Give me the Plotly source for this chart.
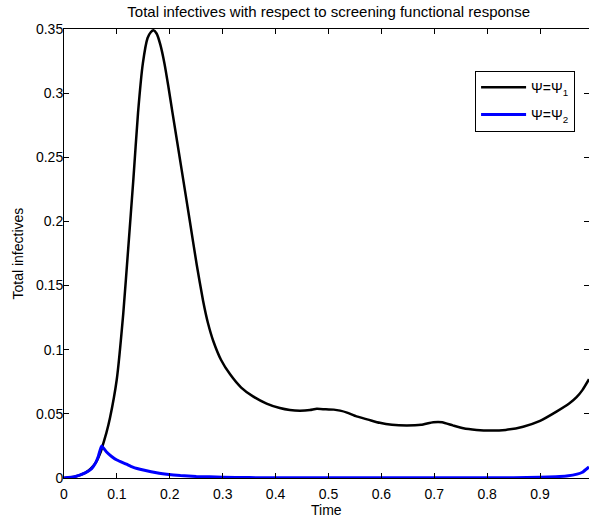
import plotly.graph_objects as go

# Time samples and values
t_psi1 = [0.0, 0.02, 0.04, 0.05, 0.06, 0.07, 0.0743, 0.08, 0.087, 0.0996, 0.112, 0.1216, 0.131, 0.14,
          0.149, 0.158, 0.164, 0.169, 0.175, 0.182, 0.19, 0.197, 0.205, 0.2225, 0.238, 0.251,
          0.263, 0.272, 0.282, 0.297, 0.314, 0.335, 0.358, 0.383, 0.408, 0.427, 0.446, 0.465, 0.478,
          0.495, 0.51, 0.522, 0.535, 0.553, 0.575, 0.597, 0.62, 0.648, 0.675, 0.698, 0.715, 0.735,
          0.755, 0.78, 0.805, 0.835, 0.868, 0.9, 0.931, 0.955, 0.969, 0.98, 0.9925]
v_psi1 = [0.0, 0.001, 0.004, 0.007, 0.012, 0.021, 0.027, 0.035, 0.047, 0.0764, 0.128, 0.180, 0.232, 0.285,
          0.323, 0.343, 0.3475, 0.349, 0.3465, 0.338, 0.323, 0.306, 0.285, 0.240, 0.200, 0.166,
          0.138, 0.121, 0.107, 0.092, 0.0808, 0.0705, 0.0634, 0.058, 0.0545, 0.053, 0.0525, 0.053, 0.054,
          0.0535, 0.0533, 0.0525, 0.051, 0.048, 0.0455, 0.043, 0.0415, 0.041, 0.0415, 0.0435, 0.0435, 0.041,
          0.0387, 0.0375, 0.037, 0.0375, 0.040, 0.0445, 0.0517, 0.058, 0.063, 0.0685, 0.077]

t_psi2 = [0.0, 0.02, 0.04, 0.05, 0.055, 0.06, 0.065, 0.071, 0.08, 0.09, 0.1, 0.118, 0.13, 0.15, 0.18,
          0.194, 0.22, 0.25, 0.3, 0.35, 0.4, 0.5, 0.6, 0.7, 0.8, 0.85, 0.9, 0.93, 0.95,
          0.97, 0.98, 0.9925]
v_psi2 = [0.0, 0.001, 0.004, 0.0065, 0.0088, 0.012, 0.017, 0.025, 0.0205, 0.0168, 0.0140, 0.0108, 0.0085, 0.0062, 0.0037,
          0.0029, 0.0019, 0.0012, 0.0006, 0.0003, 0.0002, 0.0001, 0.0001, 0.0001, 0.0001, 0.0002, 0.0005, 0.0010, 0.0016,
          0.0030, 0.0045, 0.0086]

x_ticks = [0, 0.1, 0.2, 0.3, 0.4, 0.5, 0.6, 0.7, 0.8, 0.9]
x_ticklabels = ["0", "0.1", "0.2", "0.3", "0.4", "0.5", "0.6", "0.7", "0.8", "0.9"]
y_ticks = [0, 0.05, 0.1, 0.15, 0.2, 0.25, 0.3, 0.35]
y_ticklabels = ["0", "0.05", "0.1", "0.15", "0.2", "0.25", "0.3", "0.35"]

FONT = "Liberation Sans, Arial, Helvetica, sans-serif"
FS = 14

fig = go.Figure()
fig.add_trace(go.Scatter(x=t_psi1, y=v_psi1, mode="lines", name="Ψ=Ψ<sub>1</sub>", legendgroup="g1",
                         line=dict(color="black", width=2.5, shape="spline", smoothing=0.5)))
fig.add_trace(go.Scatter(x=t_psi2, y=v_psi2, mode="lines", name="Ψ=Ψ<sub>2</sub>", legendgroup="g2",
                         line=dict(color="#0000ff", width=3, shape="spline", smoothing=0.4)))

axis_common = dict(showline=True, linecolor="black", linewidth=1, mirror="ticks",
                   ticks="inside", ticklen=5, tickcolor="black", showgrid=False, zeroline=False,
                   automargin=False,
                   tickfont=dict(family=FONT, size=FS, color="black"))

fig.update_layout(
    width=589, height=517,
    margin=dict(l=64, r=0, t=29, b=39, autoexpand=False),
    paper_bgcolor="white", plot_bgcolor="white",
    title=dict(text="Total infectives with respect to screening functional response",
               x=0.558, xanchor="center", y=0.977, yanchor="middle",
               font=dict(family=FONT, size=15, color="black")),
    xaxis=dict(range=[0, 0.9925], tickvals=x_ticks, ticktext=x_ticklabels,
               ticklabelstandoff=3, **axis_common),
    yaxis=dict(range=[0, 0.35], tickvals=y_ticks, ticktext=y_ticklabels,
               ticklabelstandoff=-3, **axis_common),
    legend=dict(x=0.783, y=0.907, xanchor="left", yanchor="top",
                bgcolor="white", bordercolor="black", borderwidth=1,
                font=dict(family=FONT, size=FS, color="black"),
                itemwidth=45, tracegroupgap=6),
    showlegend=True,
    annotations=[
        dict(text="Time", xref="paper", yref="paper", x=0.5, y=-0.0713,
             xanchor="center", yanchor="middle", showarrow=False,
             font=dict(family=FONT, size=FS, color="black")),
        dict(text="Total infectives", xref="paper", yref="paper", x=-0.0895, y=0.5,
             xanchor="center", yanchor="middle", textangle=-90, showarrow=False,
             font=dict(family=FONT, size=FS, color="black")),
    ],
)

fig.write_html("out.html", config={"displayModeBar": False},
               post_script="document.body.style.margin='0';")
